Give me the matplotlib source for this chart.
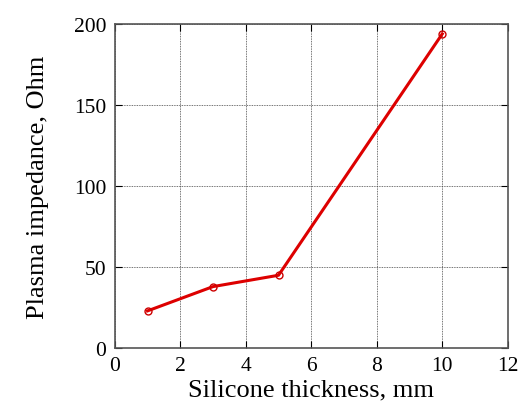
import matplotlib
matplotlib.use("Agg")
import matplotlib.pyplot as plt

# thickness (mm) vs plasma impedance (Ohm)
thickness = [1, 3, 5, 10]
impedance = [23, 38, 45, 194]

plt.rcParams['font.family'] = ['Liberation Serif', 'DejaVu Serif']

fig = plt.figure(figsize=(5.24, 4.06), dpi=100)
ax = fig.add_axes([0.219, 0.140, 0.750, 0.798])

ax.plot(thickness, impedance, color='#dd0000', lw=2.2, marker='o', ms=5,
        mfc='none', mec='#cc0000', mew=1.0)

ax.set_xlim(0, 12)
ax.set_ylim(0, 200)
ax.set_xticks(range(0, 13, 2))
ax.set_yticks(range(0, 201, 50))
ax.grid(True, color='#444444', linestyle=(0, (1, 1)), lw=0.6)
ax.tick_params(direction='in', top=True, right=True, length=5, labelsize=15.5, pad=6)
for s in ax.spines.values():
    s.set_color('#555555')
    s.set_linewidth(1.2)

ax.set_xlabel('Silicone thickness, mm', fontsize=19, labelpad=2)
ax.set_ylabel('Plasma impedance, Ohm', fontsize=19, labelpad=18)

fig.savefig('out.png', dpi=100)
